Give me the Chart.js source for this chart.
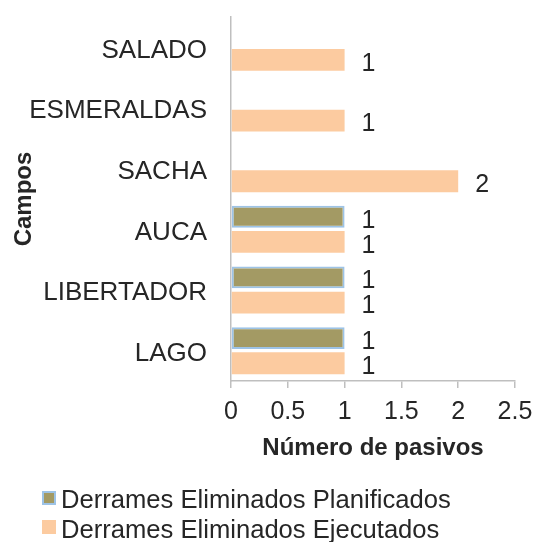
<!DOCTYPE html>
<html>
<head>
<meta charset="utf-8">
<script src="https://cdn.jsdelivr.net/npm/chart.js@4/dist/chart.umd.min.js"></script>
<style>
  html, body { margin: 0; padding: 0; background: #fff; }
  #wrap { width: 538px; height: 542px; position: relative; }
</style>
</head>
<body>
<div id="wrap"><canvas id="chart"></canvas></div>
<script>
const campos = ["SALADO", "ESMERALDAS", "SACHA", "AUCA", "LIBERTADOR", "LAGO"];
const planificados = [null, null, null, 1, 1, 1];
const ejecutados = [1, 1, 2, 1, 1, 1];
const xTicks = [0, 0.5, 1, 1.5, 2, 2.5];

const FONT = "'Liberation Sans', Arial, sans-serif";
const TEXT = "#262626";

// value labels to the right of each bar
const barLabels = {
  id: "barLabels",
  afterDatasetsDraw(chart) {
    const ctx = chart.ctx;
    ctx.save();
    ctx.font = "25px " + FONT;
    ctx.fillStyle = TEXT;
    ctx.textAlign = "left";
    ctx.textBaseline = "middle";
    chart.data.datasets.forEach((ds, i) => {
      chart.getDatasetMeta(i).data.forEach((bar, j) => {
        if (ds.data[j] == null) return;
        ctx.fillText(String(ds.data[j]), bar.x + 17, bar.y + 4);
      });
    });
    ctx.restore();
  }
};

// legend drawn in two left-aligned rows under the axis title
const bottomLegend = {
  id: "bottomLegend",
  afterDraw(chart) {
    const ctx = chart.ctx;
    ctx.save();
    ctx.font = "25.6px " + FONT;
    ctx.textBaseline = "alphabetic";
    chart.data.datasets.forEach((ds, i) => {
      const y = 491 + i * 29;
      ctx.fillStyle = ds.backgroundColor;
      ctx.fillRect(42, y, 14, 14);
      if (ds.borderWidth) {
        ctx.strokeStyle = ds.borderColor;
        ctx.lineWidth = 2;
        ctx.strokeRect(43, y + 1, 12, 12);
      }
      ctx.fillStyle = TEXT;
      ctx.fillText(ds.label, 61, y + 17 + i);
    });
    ctx.restore();
  }
};

new Chart(document.getElementById("chart"), {
  type: "bar",
  data: {
    labels: campos,
    datasets: [
      {
        label: "Derrames Eliminados Planificados",
        data: planificados,
        backgroundColor: "#A39A64",
        borderColor: "#9DC3E6",
        borderWidth: 2,
        borderSkipped: false
      },
      {
        label: "Derrames Eliminados Ejecutados",
        data: ejecutados,
        backgroundColor: "#FCCBA0",
        borderWidth: 0
      }
    ]
  },
  options: {
    indexAxis: "y",
    responsive: true,
    maintainAspectRatio: false,
    animation: false,
    categoryPercentage: 0.83,
    barPercentage: 0.87,
    layout: { padding: { top: 17, right: 23, bottom: 79, left: 0 } },
    plugins: {
      legend: { display: false },
      tooltip: { enabled: false }
    },
    scales: {
      x: {
        min: 0,
        max: 2.5,
        afterBuildTicks(axis) {
          axis.ticks = xTicks.map(v => ({ value: v }));
        },
        afterFit(axis) {
          axis.height = 82;
          axis.paddingLeft = 0;
          axis.paddingRight = 0;
        },
        grid: {
          drawOnChartArea: false,
          drawTicks: true,
          tickLength: 7,
          color: "#BFBFBF",
          lineWidth: 1.5
        },
        border: { color: "#BFBFBF", width: 1.5 },
        ticks: {
          font: { family: FONT, size: 25 },
          color: TEXT,
          padding: 9,
          maxRotation: 0,
          callback: v => String(v)
        },
        title: {
          display: true,
          text: "Número de pasivos",
          font: { family: FONT, size: 24, weight: "bold" },
          color: TEXT,
          padding: { top: 2, bottom: 0 }
        }
      },
      y: {
        afterFit(axis) {
          // Excel lets the long labels overlap the title column
          axis.width = 231;
          axis.paddingTop = 0;
          axis.paddingBottom = 0;
        },
        grid: { drawOnChartArea: false, drawTicks: false },
        border: { color: "#BFBFBF", width: 1.5 },
        ticks: {
          font: { family: FONT, size: 26 },
          color: TEXT,
          padding: 24,
          labelOffset: 3
        },
        title: {
          display: true,
          text: "Campos",
          font: { family: FONT, size: 24, weight: "bold" },
          color: TEXT,
          padding: { top: 10, bottom: 0 }
        }
      }
    }
  },
  plugins: [barLabels, bottomLegend]
});
</script>
</body>
</html>
